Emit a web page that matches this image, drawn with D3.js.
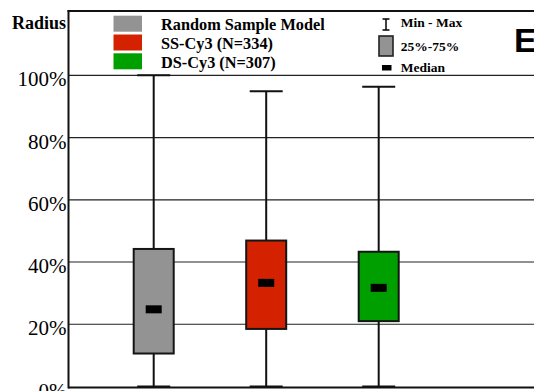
<!DOCTYPE html>
<html>
<head>
<meta charset="utf-8">
<script src="https://cdn.jsdelivr.net/npm/d3@7"></script>
<style>
  html, body { margin: 0; padding: 0; background: #fff; overflow: hidden; }
  svg { display: block; }
  text { font-family: "Liberation Serif", "Times New Roman", serif; }
  text.panel { font-family: "Liberation Sans", Arial, sans-serif; }
</style>
</head>
<body>
<svg id="chart" width="534" height="391"></svg>
<script>
// Box-plot summary of radius distributions (percent)
const categories = ["Random Sample Model", "SS-Cy3 (N=334)", "DS-Cy3 (N=307)"];
const minVals    = [0, 0, 0];
const q1Vals     = [10.6, 18.5, 21.0];
const medianVals = [24.8, 33.3, 31.7];
const q3Vals     = [44.2, 46.9, 43.3];
const maxVals    = [100, 94.9, 96.3];
const fillColors = ["#939393", "#d42100", "#009f00"];
const tickValues = [0, 20, 40, 60, 80, 100];

const W = 534;
const plotLeft = 68.5, plotTop = 11, plotBottom = 386.5, plotTopValue = 75.3;

const svg = d3.select("#chart");

const y = d3.scaleLinear().domain([0, 100]).range([plotBottom, plotTopValue]);
const x = d3.scalePoint().domain(categories).range([153.7, 378.7]);

// gridlines
svg.append("g").selectAll("line")
  .data(tickValues.filter(d => d > 0))
  .join("line")
  .attr("x1", plotLeft).attr("x2", W)
  .attr("y1", d => y(d)).attr("y2", d => y(d))
  .attr("stroke", "#222").attr("stroke-width", 1.2);

// frame: top border, bottom line
svg.append("line").attr("x1", plotLeft - 1).attr("x2", W).attr("y1", plotTop).attr("y2", plotTop)
  .attr("stroke", "#111").attr("stroke-width", 2);
svg.append("line").attr("x1", W).attr("x2", plotLeft).attr("y1", y(0) + 1).attr("y2", y(0) + 1)
  .attr("stroke", "#111").attr("stroke-width", 2);

// y axis labels
const yAxis = d3.axisLeft(y).tickValues(tickValues).tickSize(0).tickPadding(2)
  .tickFormat(d => d + "%");
const yg = svg.append("g").attr("transform", `translate(${plotLeft},0)`).call(yAxis);
yg.select(".domain").remove();
yg.selectAll("text")
  .style("font-family", "'Liberation Serif', serif")
  .attr("font-size", 21)
  .attr("fill", "#000")
  .attr("dy", "0.5em");
svg.append("line").attr("x1", plotLeft).attr("x2", plotLeft).attr("y1", plotTop - 1).attr("y2", y(0) + 2)
  .attr("stroke", "#111").attr("stroke-width", 2);

svg.append("text").attr("x", 12).attr("y", 28.5)
  .attr("font-size", 18).attr("font-weight", "bold").text("Radius");

// boxes
const boxW = 40, capW = 33, medW = 16, medH = 8;
const boxes = svg.append("g").selectAll("g")
  .data(categories.map((c, i) => ({ c, i })))
  .join("g");

boxes.append("line")
  .attr("x1", d => x(d.c)).attr("x2", d => x(d.c))
  .attr("y1", d => y(maxVals[d.i])).attr("y2", d => y(minVals[d.i]))
  .attr("stroke", "#111").attr("stroke-width", 2);
boxes.append("line")
  .attr("x1", d => x(d.c) - capW / 2).attr("x2", d => x(d.c) + capW / 2)
  .attr("y1", d => y(maxVals[d.i])).attr("y2", d => y(maxVals[d.i]))
  .attr("stroke", "#111").attr("stroke-width", 2);
boxes.append("line")
  .attr("x1", d => x(d.c) - capW / 2).attr("x2", d => x(d.c) + capW / 2)
  .attr("y1", d => y(minVals[d.i])).attr("y2", d => y(minVals[d.i]))
  .attr("stroke", "#111").attr("stroke-width", 2);
boxes.append("rect")
  .attr("x", d => x(d.c) - boxW / 2).attr("width", boxW)
  .attr("y", d => y(q3Vals[d.i])).attr("height", d => y(q1Vals[d.i]) - y(q3Vals[d.i]))
  .attr("fill", d => fillColors[d.i])
  .attr("stroke", "#151515").attr("stroke-width", 2);
boxes.append("rect")
  .attr("x", d => x(d.c) - medW / 2).attr("width", medW)
  .attr("y", d => y(medianVals[d.i]) - medH / 2).attr("height", medH)
  .attr("fill", "#000");

// series legend
const leg = svg.append("g");
const legY = [15.7, 34.5, 53.3];
categories.forEach((c, i) => {
  leg.append("rect").attr("x", 113.5).attr("y", legY[i]).attr("width", 28.5).attr("height", 16)
    .attr("fill", fillColors[i]);
  leg.append("text").attr("x", 161).attr("y", legY[i] + 14.5)
    .attr("font-size", 16.3).attr("font-weight", "bold").text(c);
});

// symbol legend
const sx = 386;
const sym = svg.append("g");
sym.append("line").attr("x1", sx).attr("x2", sx).attr("y1", 19).attr("y2", 30)
  .attr("stroke", "#000").attr("stroke-width", 1.5);
sym.append("line").attr("x1", sx - 3.5).attr("x2", sx + 3.5).attr("y1", 19).attr("y2", 19)
  .attr("stroke", "#000").attr("stroke-width", 1.5);
sym.append("line").attr("x1", sx - 3.5).attr("x2", sx + 3.5).attr("y1", 30).attr("y2", 30)
  .attr("stroke", "#000").attr("stroke-width", 1.5);
sym.append("rect").attr("x", 379).attr("y", 36).attr("width", 14).attr("height", 20)
  .attr("fill", "#939393").attr("stroke", "#222").attr("stroke-width", 1.6);
sym.append("rect").attr("x", 382).attr("y", 65).attr("width", 9.5).attr("height", 5.5)
  .attr("fill", "#000");
[["Min - Max", 27.3], ["25%-75%", 50.5], ["Median", 71.7]].forEach(([t, by]) => {
  sym.append("text").attr("x", 400.7).attr("y", by)
    .attr("font-size", 13.5).attr("font-weight", "bold").text(t);
});

// panel letter
svg.append("text").attr("class", "panel").attr("x", 514).attr("y", 52)
  .attr("font-size", 34).attr("font-weight", "bold").text("E");
</script>
</body>
</html>
